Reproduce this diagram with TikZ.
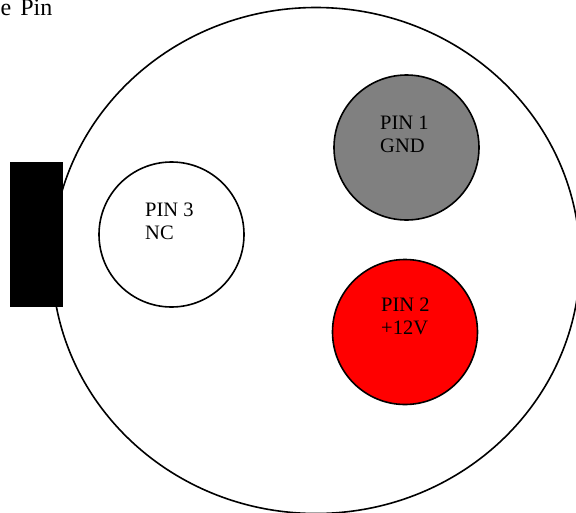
\documentclass[tikz,border=0pt]{standalone}
\usepackage{fontspec}
\setmainfont{Liberation Serif}

\begin{document}
\begin{tikzpicture}
[x=1pt,y=-1pt,hole/.style={draw,circle,line width=1.6pt,minimum size=145pt,inner sep=0pt},
tag/.style={anchor=west,inner sep=0pt,align=left,font=\fontsize{20.5}{23}\selectfont},]

\useasboundingbox (0,0) rectangle (576,512);
\clip (0,0) rectangle (576,512);

\coordinate (O) at (316,260.5);
\draw [line width=1.6pt] (O) ellipse (264 and 253);

\node (key) at (10,162)[anchor=north west,fill=black,minimum width=52.5pt,minimum height=144.5pt,inner sep=0pt]{};

\node (pin1) at (406.5,147.5)[hole,fill={rgb,255:red,128;green,128;blue,128}]{};
\node (pin2) at (405,332)[hole,fill=red]{};
\node (pin3) at (171.5,234.5)[hole]{};

\node (pin1text) at (380,134)[tag]{PIN 1\\GND};
\node (pin2text) at (381,316)[tag]{PIN 2\\+12V};
\node (pin3text) at (145,221)[tag]{PIN 3\\NC};

\node (title) at (0.5,15.5)[anchor=base west,inner sep=0pt,font=\fontsize{24}{28}\selectfont]{\spaceskip=9pt\relax e Pin};

\end{tikzpicture}
\end{document}
